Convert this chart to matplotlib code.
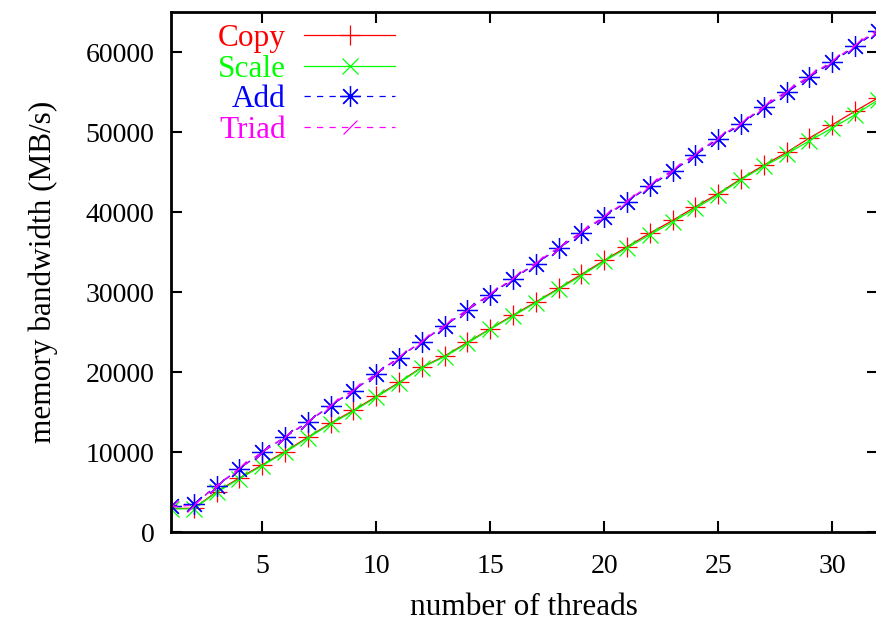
import matplotlib
matplotlib.use("Agg")
import matplotlib.pyplot as plt

# STREAM results, bandwidth in MB/s per thread count
threads = list(range(1, 33))
copy = [2950, 2950, 5050, 6750, 8400, 10050, 11850, 13600, 15200, 16950,
        18700, 20600, 22000, 23700, 25400, 27100, 28750, 30450, 32200, 33950,
        35650, 37350, 38950, 40650, 42300, 44150, 45850, 47450, 49250, 50900,
        52600, 54250]
scale = [2900, 2900, 4950, 6650, 8300, 9950, 11750, 13500, 15100, 16850,
         18600, 20550, 21900, 23600, 25350, 27000, 28650, 30350, 32050, 33850,
         35500, 37150, 38750, 40450, 42150, 44050, 45700, 47250, 48900, 50500,
         52150, 54000]
add = [3250, 3500, 5750, 7900, 9980, 11850, 13720, 15800, 17670, 19750,
       21800, 23800, 25770, 27730, 29650, 31600, 33550, 35450, 37400, 39350,
       41300, 43230, 45100, 47100, 49180, 50950, 53080, 54950, 56860, 58700,
       60700, 62650]
triad = [3150, 3350, 5800, 7950, 10000, 11900, 13800, 15850, 17750, 19800,
         21850, 23850, 25850, 27800, 29750, 31700, 33650, 35550, 37500, 39450,
         41400, 43350, 45250, 47250, 49300, 51100, 53200, 55100, 57000, 58850,
         60850, 62800]

plt.rcParams["font.family"] = ["Liberation Serif", "DejaVu Serif"]
plt.rcParams["font.size"] = 20

fig = plt.figure(figsize=(8.76, 6.23), dpi=100)
ax = fig.add_axes([171 / 876, (623 - 532) / 623, 706.8 / 876, 520 / 623])

slash = [(-1, -1), (1, 1)]
ax.plot(threads, copy, color="#ff0000", lw=0.9, marker="+", ms=15, mew=0.9, label="Copy")
ax.plot(threads, scale, color="#00ff00", lw=0.9, marker="x", ms=11, mew=0.9, label="Scale")
ax.plot(threads, add, color="#0000ff", lw=0.9, ls=(0, (5, 5)), marker=(8, 2, 0), ms=15,
        mew=0.9, label="Add")
ax.plot(threads, triad, color="#ff00ff", lw=0.9, ls=(0, (5, 5)), marker=slash, ms=10,
        mew=0.9, label="Triad")

ax.set_xlim(1, 32)
ax.set_ylim(0, 65000)
ax.set_xticks([5, 10, 15, 20, 25, 30])
ax.set_yticks(range(0, 60001, 10000))
ax.tick_params(direction="in", length=8, width=1.5, top=True, right=True)
ax.tick_params(axis="x", pad=16)
ax.tick_params(axis="y", pad=12)
for s in ax.spines.values():
    s.set_linewidth(2)

ax.set_xlabel("number of threads", fontsize=22.5, labelpad=10)
ax.set_ylabel("memory bandwidth (MB/s)", fontsize=22.5, labelpad=20)

leg = ax.legend(loc="upper right", bbox_to_anchor=((395 - 171) / 706.8, (532 - 24) / 520),
                frameon=False, markerfirst=False, numpoints=1, handlelength=2.9,
                handletextpad=0.6, labelspacing=0.05, borderpad=0, borderaxespad=0,
                labelcolor="linecolor", fontsize=22.5)

fig.savefig("out.png", dpi=100)
